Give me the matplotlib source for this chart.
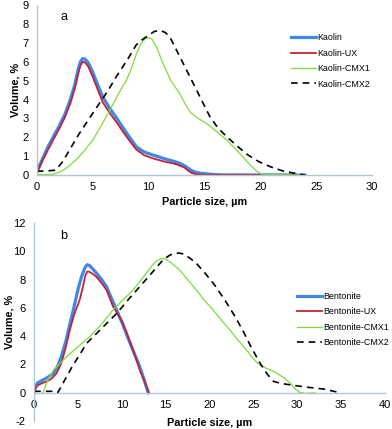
import matplotlib
matplotlib.use('Agg')
import matplotlib.pyplot as plt

plt.rcParams['font.family'] = ['Liberation Sans', 'DejaVu Sans']
plt.rcParams['axes.unicode_minus'] = False

# Kaolin-Serie (oberes Diagramm)
kao_x = [0, 0.5, 1, 1.5, 2, 2.5, 3, 3.4, 3.7, 3.9, 4.1, 4.3, 4.6, 5, 5.5, 5.9, 6.5, 7.1, 8, 8.9,
         9.6, 10.4, 11.5, 12.3, 12.8, 13.2, 13.5, 13.8, 14.2, 14.6, 15.5, 16.5, 24]
kao_y = [0.18, 0.85, 1.5, 2.05, 2.6, 3.2, 4.0, 4.8, 5.6, 6.0, 6.17, 6.15, 5.95, 5.45, 4.7, 4.14, 3.55, 3.05, 2.25, 1.5,
         1.22, 1.06, 0.85, 0.72, 0.62, 0.5, 0.38, 0.25, 0.15, 0.1, 0.04, 0.01, 0]
kao_ux_y = [0.1, 0.75, 1.35, 1.9, 2.45, 3.05, 3.8, 4.6, 5.35, 5.8, 6.0, 5.97, 5.75, 5.2, 4.45, 3.85, 3.3, 2.82, 2.05, 1.35,
            1.05, 0.88, 0.7, 0.6, 0.5, 0.4, 0.25, 0.12, 0.05, 0.02, 0, 0, 0]

kao_cmx1_x = [0, 0.7, 1.4, 2, 2.5, 3, 3.5, 4.2, 5.0, 5.7, 6.5, 7.0, 7.4, 8.0, 8.5, 8.9, 9.3, 9.7, 10.0, 10.3, 10.7,
              11.3, 12.0, 12.8, 13.3, 13.7, 14.3, 15.2, 16.0, 17.0, 18.0, 19.1, 19.7, 20.2, 24]
kao_cmx1_y = [0.05, 0.02, 0.03, 0.15, 0.3, 0.55, 0.8, 1.25, 1.85, 2.55, 3.4, 3.95, 4.4, 5.0, 5.7, 6.4, 6.95, 7.22, 7.28, 7.2, 6.8,
              5.9, 5.0, 4.3, 3.75, 3.35, 3.05, 2.73, 2.35, 1.85, 1.25, 0.53, 0.2, 0.02, 0]

kao_cmx2_x = [0, 1, 1.7, 2.3, 3, 3.8, 4.7, 5.6, 6.4, 7.1, 7.4, 8.2, 8.9, 9.5, 10.0, 10.5, 11.0, 11.5, 11.9, 12.6,
              13.4, 14.0, 14.6, 15.5, 16.2, 17.0, 18.0, 18.9, 19.9, 20.9, 22.0, 23.0, 24]
kao_cmx2_y = [0.2, 0.22, 0.26, 0.7, 1.4, 2.2, 3.0, 3.8, 4.5, 5.2, 5.47, 6.2, 6.9, 7.2, 7.4, 7.6, 7.67, 7.55, 7.32, 6.5,
              5.56, 4.85, 4.14, 3.08, 2.5, 2.03, 1.5, 1.06, 0.7, 0.44, 0.22, 0.1, 0]

# Bentonit-Serie (unteres Diagramm)
ben_x = [0, 0.15, 0.4, 1.0, 1.6, 2.2, 2.7, 3.1, 3.6, 4.1, 4.6, 5.0, 5.4, 5.8, 6.05, 6.3, 6.7, 7.1, 7.7, 8.25,
         8.8, 9.4, 10.0, 10.5, 11.2, 11.9, 12.5, 13.0]
ben_y = [0, 0.45, 0.7, 0.9, 1.1, 1.37, 1.9, 2.55, 3.6, 4.9, 6.2, 7.3, 8.2, 8.85, 9.05, 9.0, 8.75, 8.46, 8.0, 7.5,
         6.7, 5.86, 5.0, 4.2, 3.1, 2.08, 1.0, 0]

ben_ux_x = [0, 0.2, 0.45, 1.0, 1.4, 2.0, 2.55, 3.1, 3.6, 4.07, 4.6, 5.2, 5.6, 5.85, 6.05, 6.3, 6.7, 7.1, 7.7, 8.25,
            9.0, 9.6, 10.15, 10.7, 11.3, 12.05, 12.6, 13.1]
ben_ux_y = [0, 0.35, 0.54, 0.7, 0.78, 1.0, 1.37, 2.08, 3.2, 4.44, 5.6, 6.57, 7.6, 8.3, 8.57, 8.55, 8.4, 8.2, 7.75, 7.27,
            6.1, 5.5, 4.9, 4.0, 3.0, 1.6, 0.8, 0]

ben_cmx1_x = [1.0, 1.5, 2.2, 3.0, 3.7, 5.0, 6.35, 7.7, 9.0, 10.2, 11.3, 12.1, 12.8, 13.4, 13.9, 14.5, 15.0, 15.6, 16.6,
              17.5, 18.5, 19.4, 20.4, 21.4, 22.3, 23.2, 24.2, 25.0, 25.7, 26.5, 27.2, 27.65, 28.5, 29.2, 29.8, 30.3,
              31, 32]
ben_cmx1_y = [0, 0.8, 1.6, 2.1, 2.55, 3.25, 3.97, 4.85, 5.86, 6.6, 7.27, 7.9, 8.46, 8.95, 9.3, 9.5, 9.45, 9.2, 8.68,
              8.0, 7.27, 6.55, 5.86, 5.1, 4.45, 3.75, 3.03, 2.4, 1.98, 1.72, 1.55, 1.39, 1.05, 0.68, 0.25, 0.02,
              -0.05, 0]

ben_cmx2_x = [0, 1.5, 2.4, 2.7, 4.3, 6.0, 7.7, 9.4, 10.9, 12.4, 13.6, 14.7, 15.4, 15.9, 16.5, 17.1, 17.8, 18.5, 19.5,
              20.6, 21.8, 22.9, 23.8, 24.6, 25.3, 25.9, 26.6, 27.3, 28.2, 29.2, 31, 33, 34.9]
ben_cmx2_y = [0.1, 0.1, 0.1, 0, 1.8, 3.5, 4.55, 5.6, 6.7, 7.75, 8.6, 9.4, 9.7, 9.85, 9.88, 9.8, 9.5, 9.15, 8.45,
              7.6, 6.5, 5.4, 4.4, 3.4, 2.6, 1.95, 1.3, 0.8, 0.65, 0.56, 0.4, 0.26, 0]

blau = '#4088e8'
rot = '#c42236'
gruen = '#7ddc3a'
achse = '#b4c4d2'

fig = plt.figure(figsize=(3.92, 4.29), dpi=100)
ax1 = fig.add_axes([0.094, 0.592, 0.855, 0.396])
ax2 = fig.add_axes([0.087, 0.0186, 0.895, 0.4615])

ax1.plot(kao_x, kao_y, color=blau, lw=2.3, label='Kaolin')
ax1.plot(kao_x, kao_ux_y, color=rot, lw=1.3, label='Kaolin-UX')
ax1.plot(kao_cmx1_x, kao_cmx1_y, color=gruen, lw=0.9, label='Kaolin-CMX1')
ax1.plot(kao_cmx2_x, kao_cmx2_y, color='black', lw=1.2, dashes=(4, 3), label='Kaolin-CMX2')
ax1.set_xlim(0, 30)
ax1.set_ylim(0, 9)
ax1.set_xticks(range(0, 31, 5))
ax1.set_yticks(range(0, 10))
ax1.text(0.08, 0.93, 'a', transform=ax1.transAxes, fontsize=9, ha='center', va='center')

ax2.plot(ben_x, ben_y, color=blau, lw=2.3, label='Bentonite')
ax2.plot(ben_ux_x, ben_ux_y, color=rot, lw=1.3, label='Bentonite-UX')
ax2.plot(ben_cmx1_x, ben_cmx1_y, color=gruen, lw=0.9, label='Bentonite-CMX1')
ax2.plot(ben_cmx2_x, ben_cmx2_y, color='black', lw=1.2, dashes=(4, 3), label='Bentonite-CMX2')
ax2.set_xlim(0, 40)
ax2.set_ylim(-2, 12)
ax2.set_xticks(range(0, 41, 5))
ax2.set_yticks(range(-2, 13, 2))
ax2.spines['bottom'].set_position(('data', 0))
ax2.text(0.085, 0.934, 'b', transform=ax2.transAxes, fontsize=9, ha='center', va='center')

for ax in (ax1, ax2):
    for s in ('top', 'right'):
        ax.spines[s].set_visible(False)
    for s in ('left', 'bottom'):
        ax.spines[s].set_color(achse)
        ax.spines[s].set_linewidth(1.0)
    ax.tick_params(length=0, labelsize=8, colors='black')
    ax.tick_params(axis='x', pad=5)
    ax.tick_params(axis='y', pad=6)
    ax.set_ylabel('Volume, %', fontsize=7.8, fontweight='bold')
    ax.set_xlabel('Particle size, µm', fontsize=7.8, fontweight='bold')

ax1.yaxis.set_label_coords(-0.048, 0.5)
ax1.xaxis.set_label_coords(0.5, -0.13)
ax2.yaxis.set_label_coords(-0.056, 0.5)
ax2.xaxis.set_label_coords(0.5, 0.015)

ax1.legend(loc='upper left', bbox_to_anchor=(0.745, 0.86), frameon=False, fontsize=6.4,
           handlelength=2.8, handletextpad=0.1, labelspacing=0.72, borderpad=0)
ax2.legend(loc='upper left', bbox_to_anchor=(0.738, 0.675), frameon=False, fontsize=6.4,
           handlelength=2.8, handletextpad=0.1, labelspacing=0.72, borderpad=0)

fig.savefig('out.png', dpi=100)
